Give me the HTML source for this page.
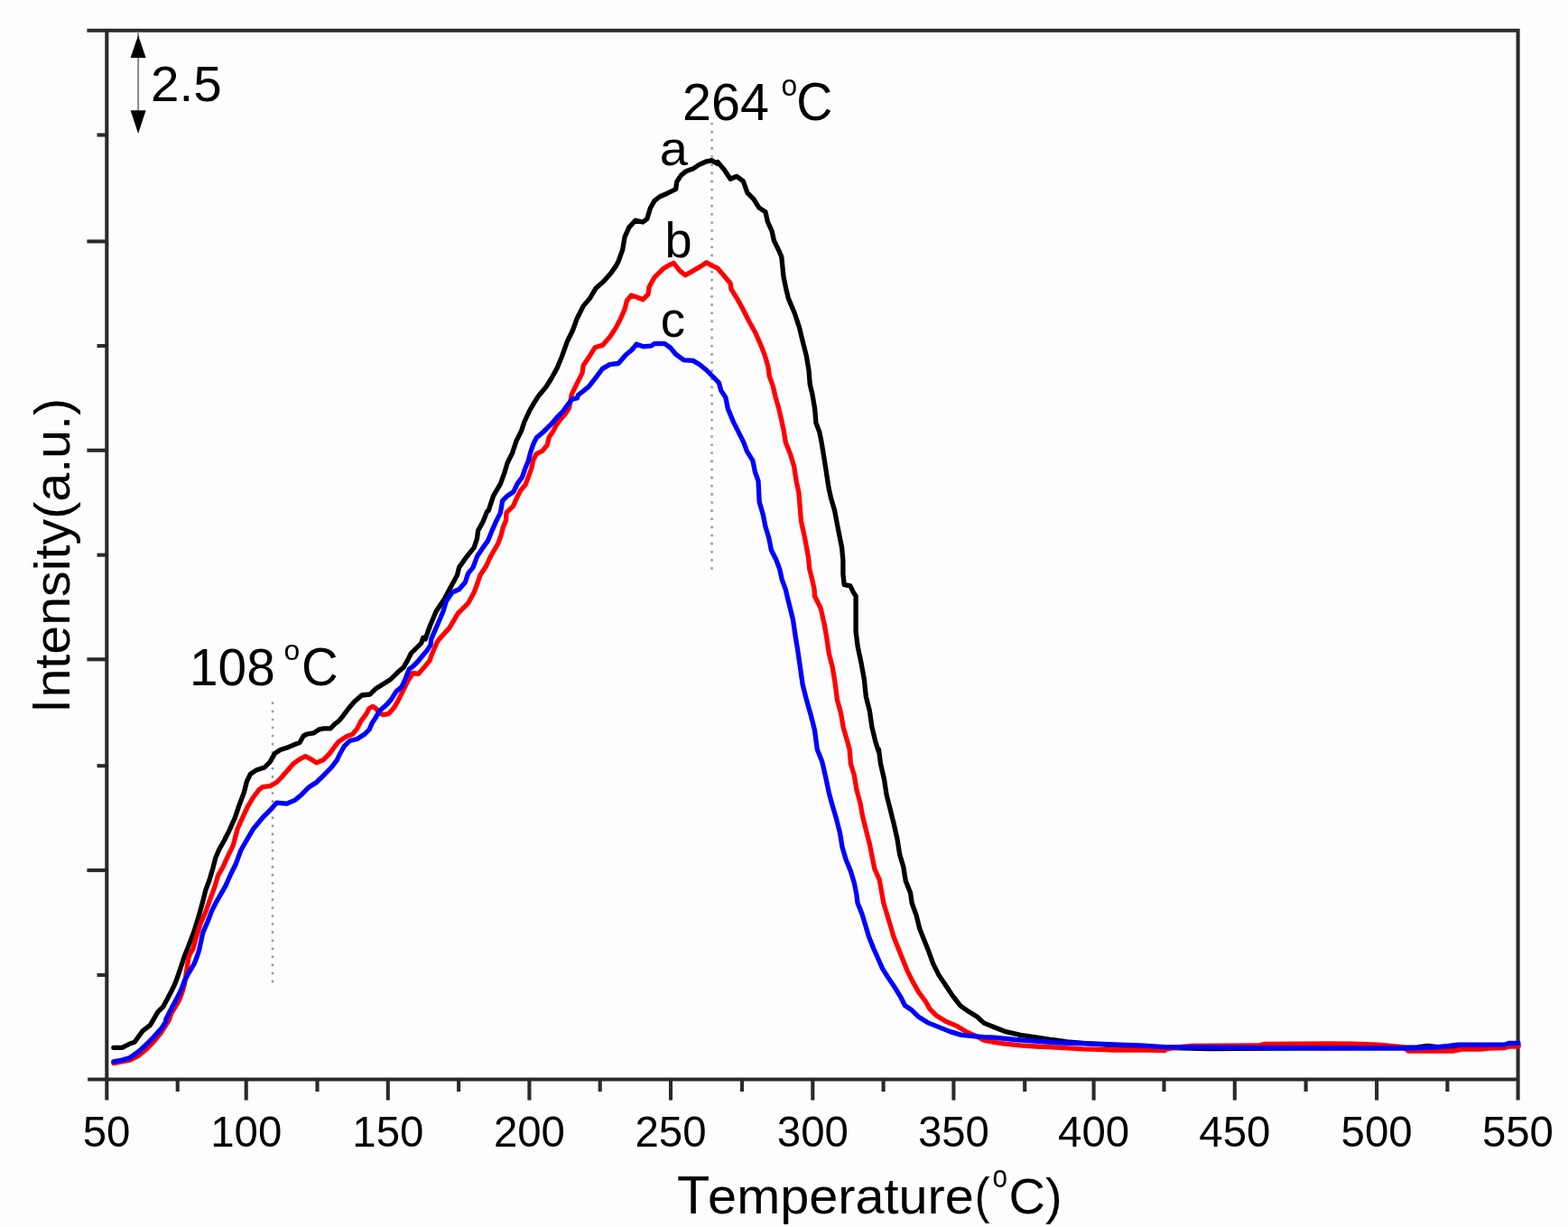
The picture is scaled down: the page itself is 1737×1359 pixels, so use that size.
<!DOCTYPE html>
<html><head><meta charset="utf-8"><style>
html,body{margin:0;padding:0;background:#fdfdfd;width:1737px;height:1359px;overflow:hidden}
svg{display:block}
text{font-family:"Liberation Sans",Arial,sans-serif;fill:#000}
</style></head><body>
<svg width="1737" height="1359" viewBox="0 0 1737 1359">
<rect width="1737" height="1359" fill="#fdfdfd"/>
<g stroke="#2a2a2a" stroke-width="4.1" fill="none" stroke-linecap="butt">
<polyline points="96.4,33.8 1681.6,33.8 1681.6,1218.6"/>
<line x1="97.1" y1="1195.5" x2="1681.6" y2="1195.5"/>
<line x1="118.3" y1="31.999999999999996" x2="118.3" y2="1218.6"/>
<line x1="107.5" y1="149.5" x2="118.3" y2="149.5"/><line x1="96.4" y1="267.4" x2="118.3" y2="267.4"/><line x1="107.5" y1="383.1" x2="118.3" y2="383.1"/><line x1="96.4" y1="498.8" x2="118.3" y2="498.8"/><line x1="107.5" y1="614.7" x2="118.3" y2="614.7"/><line x1="96.4" y1="730.3" x2="118.3" y2="730.3"/><line x1="107.5" y1="848.2" x2="118.3" y2="848.2"/><line x1="96.4" y1="963.9" x2="118.3" y2="963.9"/><line x1="107.5" y1="1079.9" x2="118.3" y2="1079.9"/><line x1="196.7" y1="1195.5" x2="196.7" y2="1209.0"/><line x1="272.7" y1="1195.5" x2="272.7" y2="1218.6"/><line x1="351.5" y1="1195.5" x2="351.5" y2="1209.0"/><line x1="429.8" y1="1195.5" x2="429.8" y2="1218.6"/><line x1="508.1" y1="1195.5" x2="508.1" y2="1209.0"/><line x1="586.4" y1="1195.5" x2="586.4" y2="1218.6"/><line x1="664.7" y1="1195.5" x2="664.7" y2="1209.0"/><line x1="743.0" y1="1195.5" x2="743.0" y2="1218.6"/><line x1="822.0" y1="1195.5" x2="822.0" y2="1209.0"/><line x1="900.3" y1="1195.5" x2="900.3" y2="1218.6"/><line x1="978.6" y1="1195.5" x2="978.6" y2="1209.0"/><line x1="1056.4" y1="1195.5" x2="1056.4" y2="1218.6"/><line x1="1135.2" y1="1195.5" x2="1135.2" y2="1209.0"/><line x1="1211.6" y1="1195.5" x2="1211.6" y2="1218.6"/><line x1="1289.5" y1="1195.5" x2="1289.5" y2="1209.0"/><line x1="1367.8" y1="1195.5" x2="1367.8" y2="1218.6"/><line x1="1446.6" y1="1195.5" x2="1446.6" y2="1209.0"/><line x1="1525.1" y1="1195.5" x2="1525.1" y2="1218.6"/><line x1="1603.4" y1="1195.5" x2="1603.4" y2="1209.0"/>
</g>
<g stroke="#999" stroke-width="2.5" fill="none">
<line x1="788.6" y1="135.7" x2="788.6" y2="630.8" stroke-dasharray="2.6 6.52"/>
<line x1="302.0" y1="777.5" x2="302.0" y2="1088.3" stroke-dasharray="2.6 6.465"/>
</g>
<g fill="none" stroke-width="5.3" stroke-linejoin="round" stroke-linecap="round">
<polyline stroke="#000" points="125.8,1160.3 135.3,1160.3 143.9,1156.0 149.1,1154.3 157.7,1142.2 166.4,1135.3 175.0,1120.7 180.9,1114.8 185.6,1105.9 190.3,1097.1 194.4,1088.3 198.6,1076.5 201.5,1067.7 204.4,1058.8 208.0,1050.0 215.0,1031.5 220.6,1013.3 224.8,997.9 227.6,986.7 231.7,975.5 235.9,961.5 238.7,950.3 242.9,940.6 248.5,930.8 254.1,919.6 259.7,907.0 260.0,906.7 265.2,891.2 270.3,877.9 273.4,865.5 277.5,857.3 283.7,853.1 293.0,850.0 299.1,843.9 304.3,834.6 310.5,830.5 319.7,827.4 332.1,822.2 336.2,815.0 340.3,813.0 347.6,811.9 353.7,807.8 358.9,806.8 366.1,806.8 371.2,801.6 375.0,798.9 380.2,792.7 386.3,784.5 392.5,777.3 400.8,770.0 410.0,769.0 416.2,762.8 424.4,757.7 432.7,752.5 440.9,744.3 447.1,739.1 451.2,731.9 455.3,723.7 461.5,717.5 466.7,712.4 468.7,706.2 471.1,707.9 476.6,692.5 483.2,677.0 492.1,663.8 500.9,647.2 506.4,637.3 508.6,628.4 516.4,617.4 525.2,606.4 528.5,596.4 529.6,587.6 535.1,577.7 539.6,566.6 541.1,565.7 546.6,549.2 554.4,535.9 558.8,523.8 562.1,512.7 567.6,501.7 572.0,488.4 577.5,477.4 580.8,467.5 586.4,455.3 590.8,447.6 596.3,438.8 602.9,431.0 605.0,428.4 610.9,419.0 616.8,408.4 622.7,394.2 628.6,377.7 634.4,366.0 639.1,353.0 646.2,338.9 653.3,330.6 660.3,318.9 668.6,311.8 676.8,302.4 682.7,294.1 685.0,289.5 689.7,276.6 692.1,262.4 696.8,251.9 703.8,244.2 712.1,246.0 716.8,242.4 720.3,230.7 725.0,222.4 730.9,217.7 739.2,214.2 748.6,209.5 749.8,201.2 754.5,194.1 760.4,189.4 767.4,187.1 774.5,182.4 782.7,178.8 788.6,177.7 794.5,181.2 795.0,179.4 802.1,187.7 809.1,198.3 816.2,195.3 823.3,200.6 828.0,213.6 835.0,220.6 840.9,230.1 848.0,234.8 850.3,245.4 855.1,256.0 857.4,266.6 862.1,276.0 865.7,284.2 866.8,294.8 868.0,306.6 870.8,320.0 873.4,330.6 880.1,346.5 885.4,362.4 889.3,378.3 893.3,394.2 896.0,410.1 897.3,426.0 899.9,436.6 902.6,452.5 903.9,468.3 907.9,478.9 910.1,490.0 912.7,505.9 915.4,523.1 918.0,540.3 920.7,552.3 924.6,565.5 927.3,580.1 929.9,593.3 932.6,606.6 933.9,621.1 933.9,635.7 935.2,647.6 941.9,648.9 945.8,656.9 948.1,660.0 948.1,679.9 948.1,699.7 950.1,715.6 954.0,734.2 957.4,752.7 959.3,771.3 963.3,787.2 966.0,805.7 969.9,821.6 973.2,832.2 973.5,830.0 975.5,845.9 979.5,863.1 982.1,880.3 986.1,896.2 990.1,912.1 994.0,929.3 996.7,946.6 1000.7,959.8 1003.3,975.7 1008.6,988.9 1010.1,1000.0 1015.1,1013.8 1018.8,1028.8 1023.8,1041.3 1028.8,1053.8 1033.8,1067.6 1040.1,1080.1 1047.6,1091.3 1055.1,1102.6 1063.8,1113.8 1072.6,1120.1 1082.6,1126.3 1090.0,1133.1 1101.5,1137.7 1113.0,1142.3 1130.3,1146.3 1147.6,1148.8 1164.8,1151.5 1182.0,1153.8 1199.4,1155.3 1216.7,1156.6 1239.7,1158.0 1262.7,1159.5 1276.0,1160.0 1280.0,1160.0 1340.0,1161.5 1480.0,1160.5 1570.0,1160.0 1581.5,1158.5 1595.0,1160.0 1682.0,1158.0"/>
<polyline stroke="#ff0000" points="125.8,1177.6 143.9,1174.1 152.5,1169.8 161.2,1162.9 169.8,1154.3 178.4,1143.9 187.1,1130.1 190.0,1122.0 194.4,1114.8 198.6,1107.7 202.5,1097.0 204.4,1090.0 206.0,1080.0 208.6,1062.0 210.3,1057.0 213.9,1051.0 216.4,1041.3 222.0,1023.1 227.6,1010.5 233.1,995.1 237.3,983.9 241.5,969.9 247.1,960.1 252.7,947.6 258.3,936.4 263.1,918.0 268.2,906.7 274.4,893.3 280.6,883.0 286.8,874.8 290.9,871.7 299.1,870.6 306.4,866.5 312.5,860.3 317.7,854.2 324.9,845.9 332.1,840.8 338.3,837.7 344.5,840.8 350.6,844.9 357.9,841.8 365.1,834.6 371.2,826.4 375.0,821.5 384.3,815.4 390.5,813.3 395.6,807.1 399.7,798.9 405.9,790.6 409.0,784.5 413.1,782.4 416.2,784.5 420.3,789.6 424.4,791.7 430.6,790.6 436.8,783.4 440.9,776.2 445.0,768.0 448.1,761.8 452.3,753.6 457.4,745.3 463.6,746.4 469.8,739.1 475.9,731.9 478.0,725.8 481.1,718.5 484.2,711.3 486.6,707.9 497.6,695.8 507.5,679.2 518.6,668.2 525.2,656.0 528.5,647.2 531.8,637.3 538.4,627.3 542.9,617.4 547.3,609.7 551.7,602.0 555.0,593.1 557.2,584.3 560.5,576.6 561.0,567.9 568.7,560.2 572.0,552.5 576.4,543.6 582.0,537.0 585.3,528.2 588.6,519.4 590.8,509.4 594.1,502.8 600.7,499.5 606.2,492.9 608.4,484.0 612.9,477.4 616.2,470.8 619.5,466.4 626.1,458.6 630.5,452.0 633.3,436.6 639.1,424.8 645.0,413.1 646.2,404.8 653.3,394.2 659.2,384.8 667.4,382.4 675.7,373.0 682.7,362.4 687.4,353.0 692.1,342.4 694.5,333.0 699.2,327.1 706.3,329.5 712.2,331.8 718.0,325.9 719.1,317.8 725.0,307.2 734.5,297.8 740.3,294.2 746.2,291.3 753.3,300.1 759.2,304.8 767.4,300.1 775.7,295.4 782.7,290.7 788.6,294.2 795.0,297.2 802.1,305.4 809.1,313.7 809.9,320.0 816.5,330.6 823.1,342.5 829.7,355.8 836.4,367.7 841.7,379.6 847.0,392.8 850.9,406.1 852.3,416.7 856.2,427.3 858.9,439.2 862.8,452.5 865.5,464.4 868.1,476.3 870.3,490.0 875.6,503.2 879.6,516.5 882.3,533.7 884.9,545.6 886.2,561.5 887.5,577.4 890.2,589.3 892.8,602.6 895.5,617.2 896.8,630.4 899.5,641.0 902.1,652.9 902.4,660.0 909.0,673.2 913.0,690.5 915.6,705.0 918.3,723.6 922.3,739.5 924.9,755.4 927.5,775.2 931.5,789.8 934.2,805.7 938.1,818.9 941.1,830.0 942.4,845.9 946.4,859.1 949.0,875.0 953.0,889.6 955.6,904.2 959.6,920.1 963.6,936.0 966.2,949.2 968.9,962.5 974.2,974.4 976.8,988.9 978.8,1000.0 982.5,1012.5 986.3,1025.0 990.0,1037.5 995.0,1050.0 1000.0,1062.5 1005.0,1075.1 1011.3,1087.6 1017.6,1098.8 1025.1,1108.8 1030.1,1117.6 1037.6,1125.1 1047.6,1131.3 1060.1,1136.4 1070.1,1142.6 1081.4,1147.6 1090.0,1152.1 1101.5,1154.4 1113.0,1156.1 1130.3,1157.8 1147.6,1159.0 1170.6,1160.1 1199.4,1161.8 1216.7,1162.4 1233.9,1163.0 1251.2,1163.0 1274.2,1163.0 1290.0,1163.6 1291.0,1162.5 1300.0,1160.5 1320.0,1158.5 1395.0,1158.0 1400.0,1156.5 1470.0,1156.0 1500.0,1156.2 1530.0,1157.3 1555.0,1160.0 1560.0,1164.0 1610.0,1164.0 1620.0,1162.2 1640.0,1162.0 1650.0,1161.0 1667.0,1160.5 1672.0,1159.0 1682.0,1159.0"/>
<polyline stroke="#0000ff" points="125.8,1175.9 135.3,1174.1 143.9,1171.5 152.5,1165.5 161.2,1157.7 169.8,1149.1 178.4,1139.6 183.6,1131.8 183.8,1128.9 188.0,1120.7 192.7,1111.8 197.4,1103.0 201.5,1094.2 204.4,1086.5 208.0,1079.4 211.5,1073.6 215.0,1067.7 217.4,1061.8 220.3,1053.5 224.8,1032.9 230.3,1020.3 234.5,1009.1 238.7,1000.7 244.3,990.9 249.9,981.1 255.5,968.5 261.1,957.3 266.7,942.0 272.3,932.2 280.6,918.0 290.9,905.7 299.1,897.4 306.4,889.2 317.7,890.2 327.0,886.1 334.2,879.9 342.4,871.7 350.6,866.5 358.9,858.3 367.1,850.0 373.3,841.8 376.0,836.0 381.2,826.7 387.4,820.5 395.6,818.5 403.8,813.3 409.0,808.2 412.1,800.9 416.2,794.8 420.3,787.6 428.6,780.3 433.7,774.2 438.9,765.9 445.0,760.8 449.2,751.5 453.3,741.2 457.4,738.1 462.6,733.0 467.7,726.8 472.9,720.6 477.0,714.4 477.7,707.9 484.4,692.5 491.0,677.0 494.3,666.0 500.9,656.0 508.6,652.7 515.3,645.0 518.6,635.1 524.1,628.4 528.5,616.3 535.1,606.4 540.7,598.6 545.1,587.6 549.5,577.7 553.9,568.8 554.4,567.9 556.6,554.7 562.1,549.2 568.7,544.8 573.1,535.9 578.6,528.2 582.0,518.3 585.3,510.5 587.5,501.7 590.8,491.8 594.1,485.1 601.8,478.5 610.7,469.7 617.3,462.0 623.9,455.3 629.4,447.6 633.8,442.1 639.4,441.0 640.3,437.8 652.1,428.4 660.3,417.8 667.4,408.4 675.7,403.6 685.1,402.5 693.3,393.0 700.0,387.5 705.0,381.3 712.5,383.8 721.3,383.1 725.0,380.6 736.3,380.6 742.5,385.0 748.8,392.5 757.6,398.8 767.6,399.4 775.1,403.8 782.6,410.0 790.1,417.5 796.3,423.8 798.8,432.6 803.8,440.1 806.3,452.6 812.6,467.6 818.9,480.1 823.9,490.1 827.6,500.1 833.9,510.1 836.4,522.6 840.0,532.6 841.2,556.2 845.2,569.5 847.8,582.7 851.8,596.0 854.4,609.2 859.7,619.8 863.7,630.4 866.4,642.3 870.3,652.9 871.9,660.0 874.6,670.6 878.5,686.5 881.2,705.0 883.8,720.9 886.5,739.5 889.1,758.0 893.1,773.9 898.4,792.5 902.4,808.3 905.3,830.0 910.6,843.2 914.6,860.5 918.5,879.0 922.5,893.6 926.5,906.8 930.5,922.7 933.1,938.6 937.1,951.9 942.4,965.1 946.4,978.3 949.0,991.6 950.0,1000.0 955.0,1012.5 958.8,1025.0 962.5,1037.5 967.5,1050.0 972.5,1061.3 977.5,1072.6 983.8,1082.6 991.3,1093.8 997.5,1103.8 1002.5,1113.8 1010.1,1118.8 1017.6,1126.3 1027.6,1132.6 1040.1,1137.6 1052.6,1142.6 1065.1,1146.4 1077.6,1147.6 1090.0,1148.6 1101.5,1149.2 1124.5,1151.5 1147.6,1153.2 1170.6,1154.9 1193.6,1155.5 1216.7,1156.1 1239.7,1157.2 1262.7,1157.8 1290.0,1159.6 1380.0,1160.5 1470.0,1161.0 1560.0,1161.0 1590.0,1160.0 1605.0,1158.5 1615.0,1157.2 1667.0,1157.0 1672.0,1155.3 1682.0,1155.3"/>
</g>
<line x1="153.1" y1="35" x2="153.1" y2="140" stroke="#8a8a8a" stroke-width="2"/>
<polygon points="153.1,39 144.6,64 161.6,64" fill="#000"/>
<polygon points="153.1,148 144.6,122.3 161.6,122.3" fill="#000"/>
<text transform="translate(118.00,1269.99) scale(1.0000,0.9970)" font-size="47.39" text-anchor="middle">50</text>
<text transform="translate(272.70,1269.99) scale(1.0000,0.9970)" font-size="47.39" text-anchor="middle">100</text>
<text transform="translate(429.80,1269.99) scale(1.0000,0.9970)" font-size="47.39" text-anchor="middle">150</text>
<text transform="translate(586.40,1269.99) scale(1.0000,0.9970)" font-size="47.39" text-anchor="middle">200</text>
<text transform="translate(743.00,1269.99) scale(1.0000,0.9970)" font-size="47.39" text-anchor="middle">250</text>
<text transform="translate(900.30,1269.99) scale(1.0000,0.9970)" font-size="47.39" text-anchor="middle">300</text>
<text transform="translate(1056.40,1269.99) scale(1.0000,0.9970)" font-size="47.39" text-anchor="middle">350</text>
<text transform="translate(1211.60,1269.99) scale(1.0000,0.9970)" font-size="47.39" text-anchor="middle">400</text>
<text transform="translate(1367.80,1269.99) scale(1.0000,0.9970)" font-size="47.39" text-anchor="middle">450</text>
<text transform="translate(1525.10,1269.99) scale(1.0000,0.9970)" font-size="47.39" text-anchor="middle">500</text>
<text transform="translate(1681.40,1269.99) scale(1.0000,0.9970)" font-size="47.39" text-anchor="middle">550</text>
<text transform="translate(167.12,112.18) scale(1.0000,0.9933)" font-size="56.56">2.5</text>
<text transform="translate(756.05,133.00) scale(1.0000,1.0040)" font-size="57.52">264</text>
<text transform="translate(865.54,105.69) scale(1.0000,1.0512)" font-size="31.74">o</text>
<text transform="translate(882.29,133.00) scale(1.0000,1.0653)" font-size="55.57">C</text>
<text transform="translate(210.02,759.00) scale(1.0000,1.0251)" font-size="56.75">108</text>
<text transform="translate(314.54,730.85) scale(1.0000,1.0054)" font-size="31.71">o</text>
<text transform="translate(333.89,759.00) scale(1.0000,1.0502)" font-size="56.36">C</text>
<text transform="translate(730.65,183.19) scale(1.0000,0.9565)" font-size="56.00">a</text>
<text transform="translate(736.47,284.76) scale(1.0000,1.0208)" font-size="54.19">b</text>
<text transform="translate(731.82,372.90) scale(1.0000,1.0178)" font-size="54.70">c</text>
<text transform="translate(76.54,789.39) rotate(-90) scale(1.0000,1.0785)" font-size="54.15">I</text>
<text transform="translate(76.94,772.58) rotate(-90) scale(1.0000,0.9682)" font-size="57.39">ntensity(a.u.)</text>
<text transform="translate(750.08,1344.26) scale(1.0000,0.9948)" font-size="59.30">T</text>
<text transform="translate(784.12,1343.67) scale(1.0000,0.9660)" font-size="57.64">emperature</text>
<text transform="translate(1079.84,1343.49) scale(1.0000,1.1044)" font-size="50.00">(</text>
<text transform="translate(1099.43,1314.64) scale(1.0000,1.1671)" font-size="29.68">o</text>
<text transform="translate(1117.47,1343.75) scale(1.0000,0.9792)" font-size="56.07">C)</text>
</svg>
</body></html>
